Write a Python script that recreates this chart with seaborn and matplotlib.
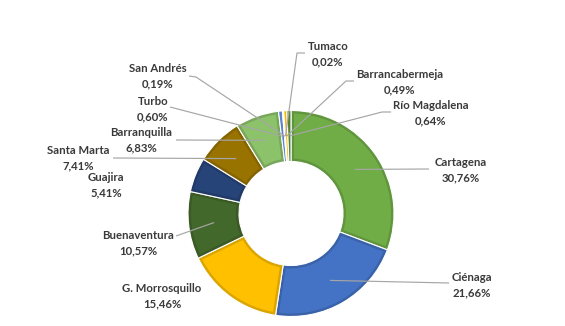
import numpy as np
import matplotlib
matplotlib.use("Agg")
import matplotlib.pyplot as plt
import seaborn as sns
from matplotlib.colors import to_rgb
from matplotlib.patches import Polygon

# Share of each port zone, in slice order (clockwise from 12 o'clock)
ports = ["Cartagena", "Ciénaga", "G. Morrosquillo", "Buenaventura", "Guajira",
         "Santa Marta", "Barranquilla", "Turbo", "San Andrés", "Tumaco",
         "Barrancabermeja", "Río Magdalena"]
shares = [30.76, 21.66, 15.46, 10.57, 5.41, 7.41, 6.83, 0.60, 0.19, 0.02, 0.49, 0.64]
pct_labels = ["30,76%", "21,66%", "15,46%", "10,57%", "5,41%", "7,41%", "6,83%",
              "0,60%", "0,19%", "0,02%", "0,49%", "0,64%"]

colors = ["#70AD47", "#4472C4", "#FFC000", "#43682B", "#264478", "#997300",
          "#8CC26A", "#5B84CC", "#C9D7EE", "#A9D18E", "#F5B800", "#548235"]

# Label block centres and leader-line anchors, in pixel coordinates (y down)
label_pos = [(461, 170), (472, 285), (162, 296), (138, 243), (106, 185),
             (78, 158), (141, 140), (153, 109), (158, 76), (328, 54),
             (400, 82), (431, 113)]
leader_start = [[(429, 169)], [(449, 283)], None, [(176, 236)], None,
                [(113, 158)], [(176, 140)], [(170, 107)], [(189, 76), (196, 77)],
                [(305, 53), (297, 53)], [(354, 81), (346, 81)], [(391, 112), (382, 112)]]

W, H = 565, 326
cx, cy = 291, 213.5
r_out, r_in = 103, 52
rim = 3.0

sns.set_theme(style="white")
plt.rcParams["font.family"] = ["Lato", "DejaVu Sans"]

fig = plt.figure(figsize=(W / 100, H / 100), dpi=100)
ax = fig.add_axes([0, 0, 1, 1])
ax.axis("off")


def fy(y):
    return H - y


def darker(c, k=0.86):
    return tuple(v * k for v in to_rgb(c))


# base ring: every slice in its darker rim shade, white hairline between slices
ring = r_out - r_in
wedges, _ = ax.pie(shares, colors=[darker(c) for c in colors], startangle=90,
                   counterclock=False, radius=r_out, center=(cx, fy(cy)),
                   wedgeprops=dict(width=ring, linewidth=0.8, edgecolor="white"))
ax.set_xlim(0, W)
ax.set_ylim(0, H)
ax.set_aspect("equal")

total = sum(shares)
cum = np.cumsum([0] + shares)


def pt(rad, ang):
    # angle measured clockwise from 12 o'clock
    return (cx + rad * np.sin(ang), fy(cy - rad * np.cos(ang)))


# lighter face of each slice, inset from its edges by the rim width
for i, c in enumerate(colors):
    a0 = 2 * np.pi * cum[i] / total
    a1 = 2 * np.pi * cum[i + 1] / total
    R, r = r_out - rim, r_in + rim
    dR, dr = np.arcsin(rim / R), np.arcsin(rim / r)
    if a1 - a0 <= 2 * dr + 0.01:
        # very thin slice: plain fill in its own colour
        wedges[i].set_facecolor(c)
        continue
    outer = [pt(R, a) for a in np.linspace(a0 + dR, a1 - dR, 80)]
    inner = [pt(r, a) for a in np.linspace(a1 - dr, a0 + dr, 80)]
    ax.add_patch(Polygon(outer + inner, closed=True, facecolor=c,
                         edgecolor="none", zorder=wedges[i].get_zorder() + 0.1))

# leader lines to the middle of each ring slice
r_mid = (r_out + r_in) / 2
line_col = "#A6A6A6"
for i, pts in enumerate(leader_start):
    if pts is None:
        continue
    ang = 2 * np.pi * (cum[i] + shares[i] / 2) / total
    end = pt(r_mid, ang)
    xs = [p[0] for p in pts] + [end[0]]
    ys = [fy(p[1]) for p in pts] + [end[1]]
    ax.plot(xs, ys, color=line_col, lw=0.85, solid_capstyle="butt", zorder=5)

text_col = "#3A3A3A"
for name, pct, (lx, ly) in zip(ports, pct_labels, label_pos):
    ax.text(lx, fy(ly), f"{name}\n{pct}", ha="center", va="center",
            fontsize=8.2, color=text_col, linespacing=1.45, fontweight="bold",
            zorder=6)

fig.savefig("out.png", dpi=100, facecolor="white")
